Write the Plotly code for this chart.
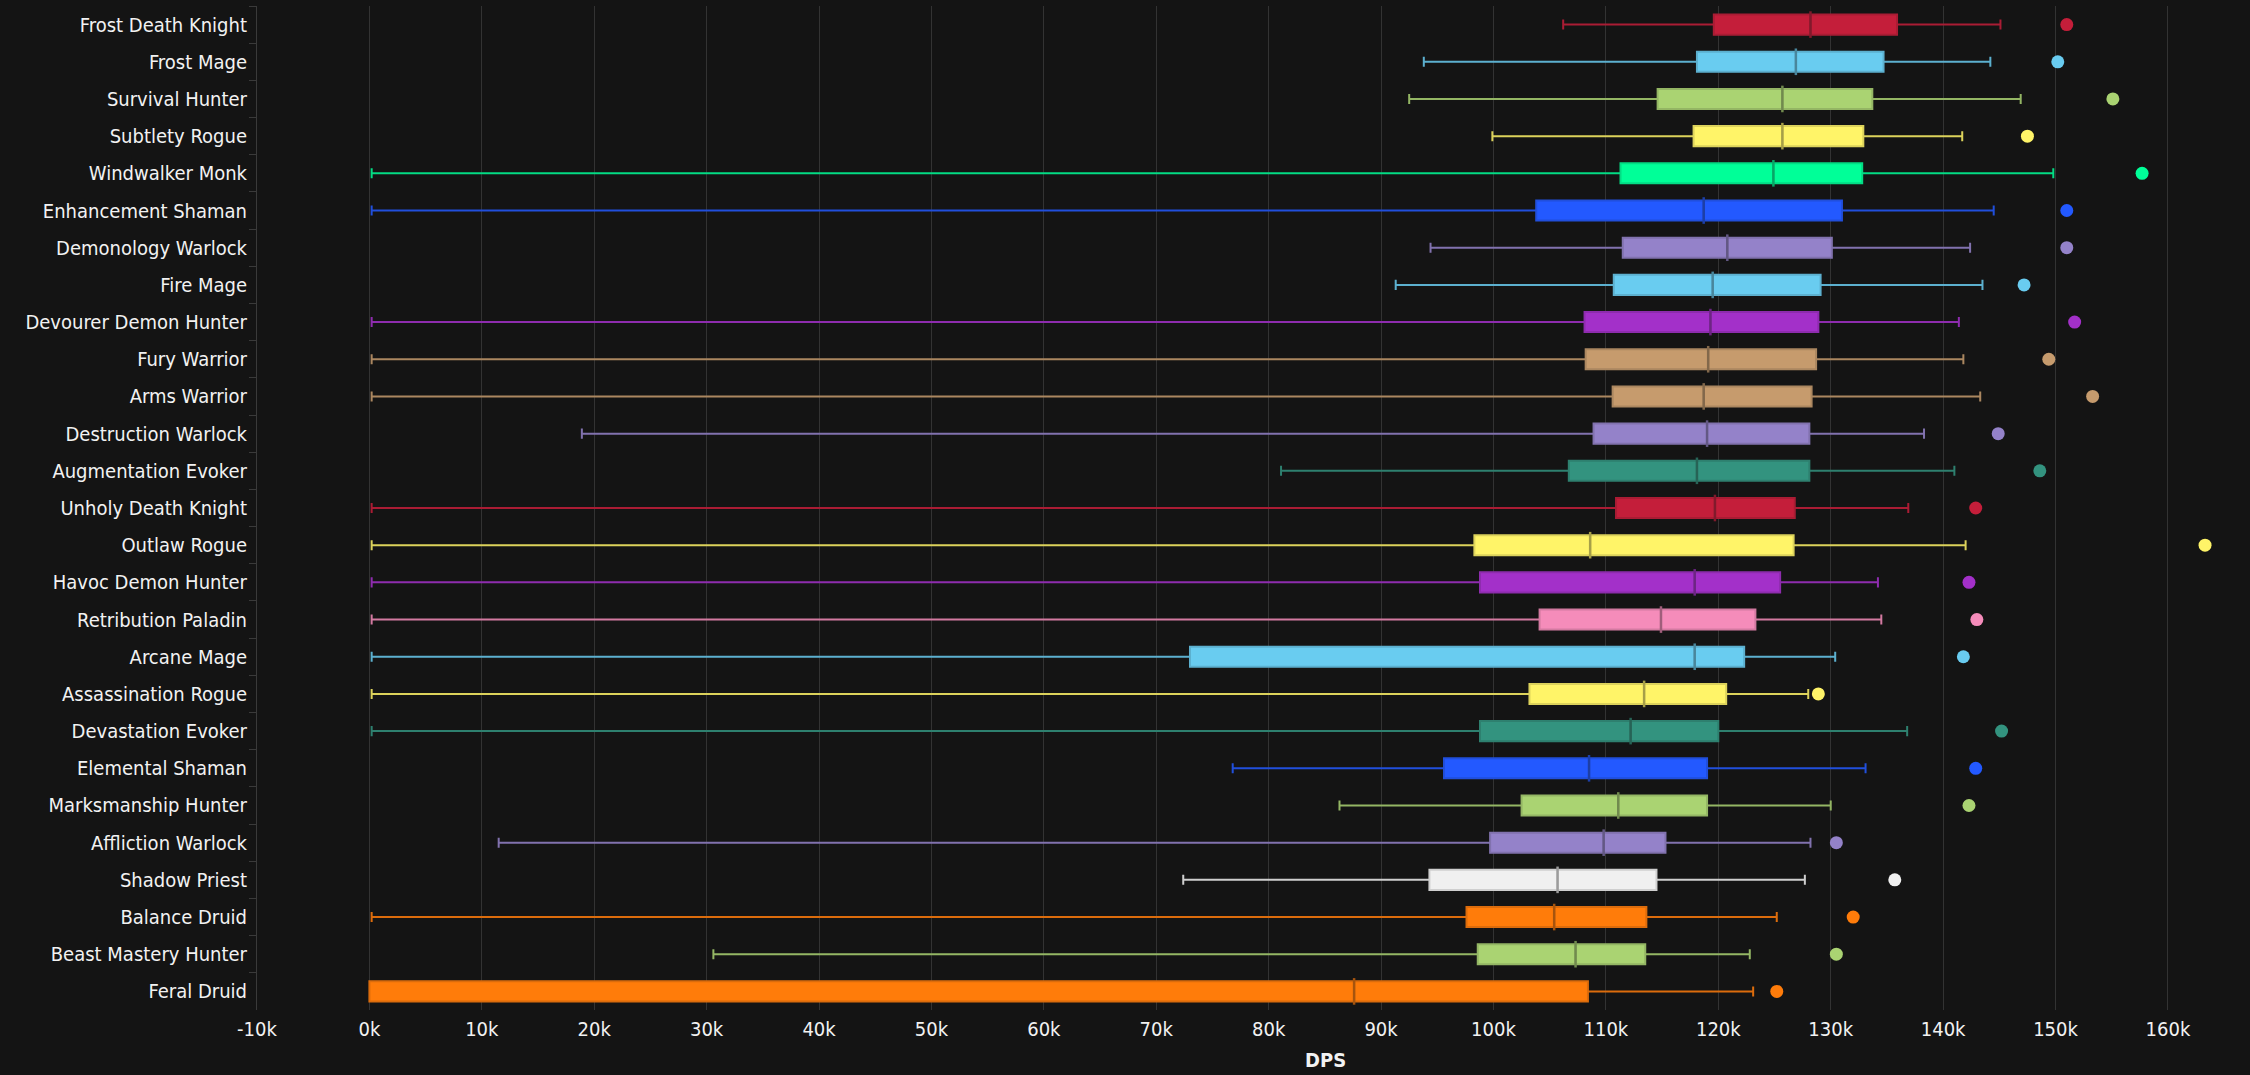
import plotly.graph_objects as go

# ---------------- data (values in thousands of DPS) ----------------
specs = [
    "Frost Death Knight", "Frost Mage", "Survival Hunter", "Subtlety Rogue",
    "Windwalker Monk", "Enhancement Shaman", "Demonology Warlock", "Fire Mage",
    "Devourer Demon Hunter", "Fury Warrior", "Arms Warrior", "Destruction Warlock",
    "Augmentation Evoker", "Unholy Death Knight", "Outlaw Rogue", "Havoc Demon Hunter",
    "Retribution Paladin", "Arcane Mage", "Assassination Rogue", "Devastation Evoker",
    "Elemental Shaman", "Marksmanship Hunter", "Affliction Warlock", "Shadow Priest",
    "Balance Druid", "Beast Mastery Hunter", "Feral Druid",
]
low_k = [106.2, 93.8, 92.5, 99.9, 0.2, 0.2, 94.4, 91.3, 0.2, 0.2, 0.2, 18.9, 81.1, 0.2,
         0.2, 0.2, 0.2, 0.2, 0.2, 0.2, 76.8, 86.3, 11.5, 72.4, 0.2, 30.6, 0.0]
q1_k = [119.6, 118.1, 114.6, 117.8, 111.3, 103.8, 111.5, 110.7, 108.1, 108.2, 110.6, 108.9,
        106.7, 110.9, 98.3, 98.8, 104.1, 73.0, 103.2, 98.8, 95.6, 102.5, 99.7, 94.3, 97.6,
        98.6, 0.0]
median_k = [128.2, 126.9, 125.7, 125.7, 124.9, 118.7, 120.8, 119.5, 119.3, 119.1, 118.7,
            119.0, 118.1, 119.7, 108.6, 117.9, 114.9, 117.9, 113.4, 112.2, 108.5, 111.1,
            109.8, 105.7, 105.4, 107.3, 87.6]
q3_k = [135.9, 134.7, 133.7, 132.9, 132.8, 131.0, 130.1, 129.1, 128.9, 128.7, 128.3, 128.1,
        128.1, 126.8, 126.7, 125.5, 123.3, 122.3, 120.7, 120.0, 119.0, 119.0, 115.3, 114.5,
        113.6, 113.5, 108.4]
high_k = [145.1, 144.2, 146.9, 141.7, 149.8, 144.5, 142.4, 143.5, 141.4, 141.8, 143.3, 138.3,
          141.0, 136.9, 142.0, 134.2, 134.5, 130.4, 128.0, 136.8, 133.1, 130.0, 128.2, 127.7,
          125.2, 122.8, 123.1]
max_k = [151.0, 150.2, 155.1, 147.5, 157.7, 151.0, 151.0, 147.2, 151.7, 149.4, 153.3, 144.9,
         148.6, 142.9, 163.3, 142.3, 143.0, 141.8, 128.9, 145.2, 142.9, 142.3, 130.5, 135.7,
         132.0, 130.5, 125.2]

class_colors = {
    "Death Knight": "#C41E3A", "Mage": "#69CCF0", "Hunter": "#AAD372", "Rogue": "#FFF468",
    "Monk": "#00FF98", "Shaman": "#2359FF", "Warlock": "#9482C9", "Demon Hunter": "#A330C9",
    "Warrior": "#C69B6D", "Evoker": "#33937F", "Paladin": "#F58CBA", "Priest": "#F0F0F0",
    "Druid": "#FF7C0A",
}

tick_vals_k = list(range(-10, 161, 10))
tick_text = [f"{v}k" for v in tick_vals_k]


# ---------------- helpers ----------------
def spec_color(name):
    for cls in sorted(class_colors, key=len, reverse=True):
        if name.endswith(cls):
            return class_colors[cls]
    return "#888888"


def shade(hex_color, f):
    h = hex_color.lstrip("#")
    r, g, b = (int(h[i:i + 2], 16) for i in (0, 2, 4))
    bg = 20
    r, g, b = (int(round(c * f + bg * (1 - f))) for c in (r, g, b))
    return f"rgb({r},{g},{b})"


K = 1000
fig = go.Figure()

for i, name in enumerate(specs):
    col = spec_color(name)
    fig.add_trace(go.Box(
        y=[name], orientation="h",
        q1=[q1_k[i] * K], median=[median_k[i] * K], q3=[q3_k[i] * K],
        lowerfence=[low_k[i] * K], upperfence=[high_k[i] * K],
        fillcolor=col, line=dict(color=shade(col, 0.85), width=2),
        whiskerwidth=0.5, width=0.54, boxpoints=False,
        showlegend=False, hoverinfo="skip",
    ))

colors = [spec_color(n) for n in specs]

# medians (darker line)
fig.add_trace(go.Scatter(
    x=[m * K for m in median_k], y=specs, mode="markers",
    marker=dict(symbol="line-ns", size=19,
                line=dict(width=2.5, color=[shade(c, 0.62) for c in colors])),
    showlegend=False, hoverinfo="skip",
))

# maximum dots
fig.add_trace(go.Scatter(
    x=[m * K for m in max_k], y=specs, mode="markers",
    marker=dict(symbol="circle", size=13, color=colors, line=dict(width=0)),
    showlegend=False, hoverinfo="skip",
))

font_family = "Liberation Sans Narrow, DejaVu Sans Condensed, Roboto Condensed, Arial Narrow, sans-serif"
n = len(specs)

fig.update_layout(
    width=2250, height=1075,
    margin=dict(l=257, r=0, t=6, b=65),
    paper_bgcolor="#141414", plot_bgcolor="#141414",
    boxmode="overlay",
    font=dict(family=font_family, color="#f2f2f2", size=20),
    xaxis=dict(
        range=[-10000, 167300],
        tickvals=[v * K for v in tick_vals_k], ticktext=tick_text,
        showgrid=True, gridcolor="#333333", gridwidth=1,
        zeroline=False, showline=False, ticks="",
        tickfont=dict(size=20, color="#f2f2f2", family=font_family),
        ticklabelstandoff=5,
    ),
    yaxis=dict(
        type="category", categoryorder="array", categoryarray=specs,
        range=[n - 0.5, -0.5], autorange=False,
        showgrid=False, zeroline=False,
        showline=True, linecolor="#3a3a3a", linewidth=1,
        ticks="outside", ticklen=7, tickcolor="#3a3a3a", tickson="boundaries",
        tickfont=dict(size=20, color="#f2f2f2", family=font_family),
        ticklabelstandoff=5,
    ),
    annotations=[dict(
        text="<b>DPS</b>", xref="paper", yref="paper",
        x=0.536, y=-0.0498, xanchor="center", yanchor="middle",
        showarrow=False, font=dict(size=20, color="#f2f2f2", family=font_family),
    )],
)

fig.write_html("out.html")
